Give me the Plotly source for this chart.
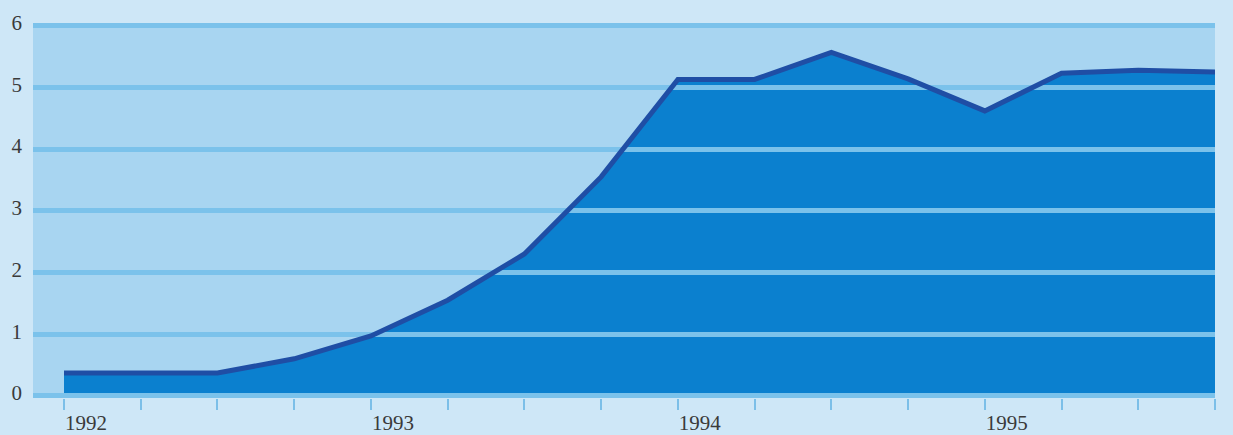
import plotly.graph_objects as go

# Quarterly series, 1992 Q1 to 1995 Q4
quarters = [1992.0, 1992.25, 1992.5, 1992.75,
            1993.0, 1993.25, 1993.5, 1993.75,
            1994.0, 1994.25, 1994.5, 1994.75,
            1995.0, 1995.25, 1995.5, 1995.75]
values = [0.37, 0.37, 0.37, 0.60,
          0.97, 1.55, 2.30, 3.55,
          5.13, 5.13, 5.57, 5.14,
          4.62, 5.23, 5.28, 5.25]

year_ticks = [1992, 1993, 1994, 1995]
y_ticks = [0, 1, 2, 3, 4, 5, 6]

PAPER = "#cee7f7"
PLOT_BG = "#a8d5f1"
GRID = "#7bc2eb"
AREA = "#0b80cf"
LINE = "#1f4ea5"
TEXT = "#3a3a3a"
FONT = "Liberation Serif"

x_range = [1991.899, 1995.75]
y_range = [-0.035, 6.045]

tick_text = [str(int(q)) if q in year_ticks else "" for q in quarters]

fig = go.Figure()

# Filled area (lower subplot, no grid)
fig.add_trace(go.Scatter(
    x=quarters, y=values, mode="lines", fill="tozeroy",
    fillcolor=AREA, line=dict(width=0, color=AREA),
    xaxis="x", yaxis="y", hoverinfo="skip", showlegend=False,
))

# Outline drawn on the upper subplot so it sits above the grid
fig.add_trace(go.Scatter(
    x=quarters, y=values, mode="lines",
    line=dict(width=5, color=LINE, shape="linear"),
    xaxis="x2", yaxis="y2", showlegend=False,
))

fig.update_layout(
    width=1233, height=435,
    margin=dict(l=33, r=18, t=23, b=37, autoexpand=False),
    paper_bgcolor=PAPER,
    plot_bgcolor="rgba(0,0,0,0)",
    font=dict(family=FONT, size=21, color=TEXT),
    shapes=[dict(type="rect", xref="paper", yref="paper",
                 x0=0, x1=1, y0=0, y1=1, layer="below",
                 fillcolor=PLOT_BG, line=dict(width=0))],
    xaxis=dict(domain=[0, 1], range=x_range, visible=False, fixedrange=True),
    yaxis=dict(domain=[0, 1], range=y_range, visible=False, fixedrange=True),
    xaxis2=dict(
        domain=[0, 1], range=x_range, anchor="y2", automargin=False,
        tickmode="array", tickvals=quarters, ticktext=tick_text,
        ticks="outside", ticklen=11, tickwidth=2, tickcolor="#7cbfe8",
        ticklabelposition="outside right",
        ticklabelstandoff=6,
        showgrid=False, zeroline=False, showline=False,
        tickfont=dict(family=FONT, size=21, color=TEXT),
    ),
    yaxis2=dict(
        domain=[0, 1], range=y_range, anchor="x2", automargin=False,
        tickmode="array", tickvals=y_ticks,
        ticktext=[str(v) for v in y_ticks],
        showgrid=True, gridcolor=GRID, gridwidth=4.5,
        zeroline=False, showline=False, ticks="",
        ticklabelstandoff=10, ticklabelshift=-3,
        tickfont=dict(family=FONT, size=21, color=TEXT),
    ),
)

fig.write_html("out.html")
